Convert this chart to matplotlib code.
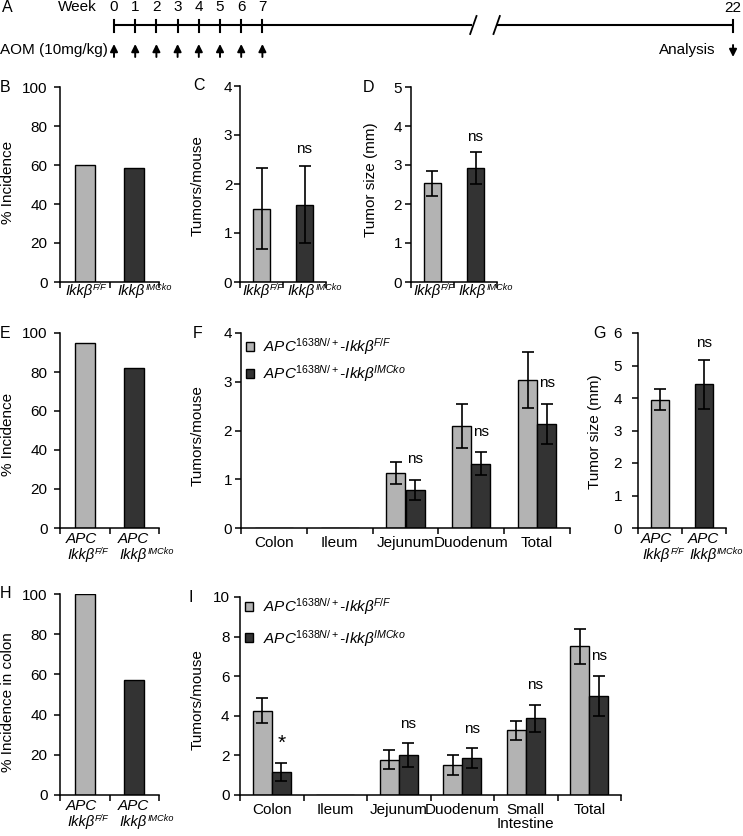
import numpy as np
import matplotlib
matplotlib.use('Agg')
import matplotlib.pyplot as plt
from matplotlib.patches import Patch

plt.rcParams['font.family'] = ['Liberation Sans', 'DejaVu Sans']
plt.rcParams['mathtext.fontset'] = 'custom'
plt.rcParams['mathtext.rm'] = 'Liberation Sans'
plt.rcParams['mathtext.it'] = 'Liberation Sans:italic'
plt.rcParams['mathtext.bf'] = 'Liberation Sans:bold'
plt.rcParams['font.size'] = 11

LIGHT = '#b3b3b3'
DARK = '#333333'
FS = 11
GFS = 10.5

# ---------------- data ----------------
weeks = [0, 1, 2, 3, 4, 5, 6, 7]
end_week = 22

gene_base = 'Ikkβ'
genotype_sups = ['F/F', 'IMCko']
apc_prefix = 'APC'
legend_labels = ['APC$^{\\mathit{1638N/+}}$-Ikkβ$^{\\mathit{F/F}}$',
                 'APC$^{\\mathit{1638N/+}}$-Ikkβ$^{\\mathit{IMCko}}$']

b_incidence = [60, 58.5]
c_tumors = [1.5, 1.58]
c_err = [0.83, 0.79]
c_marks = ['', 'ns']
d_size = [2.53, 2.92]
d_err = [0.32, 0.41]
d_marks = ['', 'ns']
e_incidence = [95, 82]
f_sites = ['Colon', 'Ileum', 'Jejunum', 'Duodenum', 'Total']
f_ff = [0, 0, 1.13, 2.10, 3.04]
f_ff_err = [0, 0, 0.23, 0.45, 0.58]
f_ko = [0, 0, 0.78, 1.32, 2.13]
f_ko_err = [0, 0, 0.20, 0.23, 0.41]
f_marks = ['', '', 'ns', 'ns', 'ns']
g_size = [3.95, 4.42]
g_err = [0.32, 0.76]
g_marks = ['', 'ns']
h_incidence = [100, 57.3]
i_sites = ['Colon', 'Ileum', 'Jejunum', 'Duodenum', 'Small\nIntestine', 'Total']
i_ff = [4.26, 0, 1.77, 1.52, 3.26, 7.51]
i_ff_err = [0.63, 0, 0.48, 0.50, 0.48, 0.87]
i_ko = [1.16, 0, 2.02, 1.87, 3.87, 5.00]
i_ko_err = [0.46, 0, 0.60, 0.50, 0.70, 1.03]
i_marks = ['*', '', 'ns', 'ns', 'ns', 'ns']

# ---------------- figure ----------------
W, H = 743, 836
fig = plt.figure(figsize=(W / 100, H / 100), dpi=100)


def add_ax(l, t, r, b):
    return fig.add_axes([l / W, 1 - b / H, (r - l) / W, (b - t) / H])


def style(ax, ncat, ymax, ystep, ypad, xpad=2, labels=None):
    for s in ['top', 'right']:
        ax.spines[s].set_visible(False)
    for s in ['left', 'bottom']:
        ax.spines[s].set_linewidth(1.1)
    ax.set_xlim(-0.5, ncat - 0.5)
    ax.set_ylim(0, ymax)
    ax.set_yticks(np.arange(0, ymax + ystep / 2, ystep))
    ax.set_xticks(np.arange(ncat + 1) - 0.5)
    ax.set_xticklabels([])
    ax.set_xticks(np.arange(ncat), minor=True)
    if labels is not None:
        ax.set_xticklabels(labels, minor=True, fontsize=FS, linespacing=1.0)
    else:
        ax.set_xticklabels([''] * ncat, minor=True)
    ax.tick_params(axis='x', which='minor', length=0, pad=xpad)
    ax.tick_params(axis='x', which='major', length=4, width=1.1, direction='out')
    ax.tick_params(axis='y', length=4, width=1.1, direction='out', pad=ypad,
                   labelsize=FS)
    return ax


def geno_labels(ax, two_line, dxs=(-14, -12), dy=-1.5):
    for i, sup in enumerate(genotype_sups):
        dx = dxs[i]
        if two_line:
            top = ax.annotate(apc_prefix, xy=(i, 0), xycoords=('data', 'axes fraction'),
                              xytext=(dx, dy - 1.5), textcoords='offset points',
                              ha='left', va='top', fontsize=FS, fontstyle='italic')
            base = ax.annotate(gene_base, xy=(0, 0), xycoords=top,
                               xytext=(1.5, -1.2), textcoords='offset points',
                               ha='left', va='top', fontsize=GFS, fontstyle='italic')
        else:
            base = ax.annotate(gene_base, xy=(i, 0), xycoords=('data', 'axes fraction'),
                               xytext=(dx, dy), textcoords='offset points',
                               ha='left', va='top', fontsize=GFS, fontstyle='italic')
        ax.annotate(sup, xy=(1, 1), xycoords=base, xytext=(0.3, 0.5),
                    textcoords='offset points', ha='left', va='top',
                    fontsize=6.6, fontstyle='italic')


def mark(ax, x, y, s, off):
    if s:
        fs = 15 if s == '*' else FS
        ax.annotate(s, (x, y), xytext=(0, off), textcoords='offset points',
                    ha='center', va='center', fontsize=fs)


def two_bars(ax, vals, err=None, marks=None, off=11):
    x = np.arange(len(vals))
    ax.bar(x, vals, width=0.4, color=[LIGHT, DARK], edgecolor='k', lw=1.0, zorder=2)
    if err is not None:
        ax.errorbar(x, vals, yerr=err, fmt='none', ecolor='k', elinewidth=1.2,
                    capsize=4.5, capthick=1.2, zorder=3)
        for xi, v, e, m in zip(x, vals, err, marks):
            mark(ax, xi, v + e, m, off)


def grouped(ax, a, aerr, b, berr, marks, w=0.29, off=13):
    x = np.arange(len(a))
    ax.bar(x - w / 2, a, width=w, color=LIGHT, edgecolor='k', lw=1.0, zorder=2)
    ax.bar(x + w / 2, b, width=w, color=DARK, edgecolor='k', lw=1.0, zorder=2)
    for xi, v, e, v2, e2, m in zip(x, a, aerr, b, berr, marks):
        if v > 0:
            ax.errorbar(xi - w / 2, v, yerr=e, fmt='none', ecolor='k', elinewidth=1.2,
                        capsize=4.5, capthick=1.2, zorder=3)
        if v2 > 0:
            ax.errorbar(xi + w / 2, v2, yerr=e2, fmt='none', ecolor='k', elinewidth=1.2,
                        capsize=4.5, capthick=1.2, zorder=3)
            mark(ax, xi + w / 2, v2 + e2, m, off)


def legend(ax, spacing, anchor):
    handles = [Patch(facecolor=LIGHT, edgecolor='k', lw=1.0),
               Patch(facecolor=DARK, edgecolor='k', lw=1.0)]
    ax.legend(handles, legend_labels, loc='upper left', bbox_to_anchor=anchor,
              frameon=False, handlelength=0.55, handleheight=0.55,
              handletextpad=0.6, labelspacing=spacing, borderaxespad=0,
              borderpad=0.2, prop={'style': 'italic', 'size': FS})


def ylabel(x, y, s):
    fig.text(x / W, 1 - y / H, s, rotation=90, ha='center', va='center', fontsize=FS)


def letter(x, y, s):
    fig.text(x / W, 1 - y / H, s, ha='left', va='center', fontsize=11.5)


# ---------------- A: timeline ----------------
axA = fig.add_axes([0, 1 - 70 / H, 1, 70 / H])
axA.set_xlim(-114 / 21.2, (743 - 114) / 21.2)
axA.set_ylim(70, 0)
axA.axis('off')
break_at, break_gap, end_pos = 16.9, 1.1, 29.2
axA.plot([weeks[0], break_at], [25, 25], color='k', lw=1.5, solid_capstyle='butt')
axA.plot([break_at + break_gap, end_pos], [25, 25], color='k', lw=1.5, solid_capstyle='butt')
for bx in [break_at - 0.1, break_at + break_gap - 0.1]:
    axA.plot([bx, bx + 0.3], [34, 16], color='k', lw=1.3)
for wk in weeks:
    axA.plot([wk, wk], [20, 32], color='k', lw=1.5)
    axA.text(wk, 7, str(wk), ha='center', va='center', fontsize=FS)
    axA.annotate('', xy=(wk, 44), xytext=(wk, 57),
                 arrowprops=dict(arrowstyle='-|>,head_width=0.2,head_length=0.4',
                                 lw=1.4, color='k', shrinkA=0, shrinkB=0))
axA.plot([end_pos, end_pos], [20, 32], color='k', lw=1.5)
axA.text(end_pos, 8, str(end_week), ha='center', va='center', fontsize=FS)
axA.annotate('', xy=(end_pos, 57), xytext=(end_pos, 45),
             arrowprops=dict(arrowstyle='-|>,head_width=0.2,head_length=0.4',
                             lw=1.4, color='k', shrinkA=0, shrinkB=0))
axA.text(-5.3, 7, 'A', ha='left', va='center', fontsize=11.5)
axA.text(-1.75, 7, 'Week', ha='center', va='center', fontsize=FS)
axA.text(-114 / 21.2, 50, 'AOM (10mg/kg)', ha='left', va='center', fontsize=FS)
axA.text(28.35, 50, 'Analysis', ha='right', va='center', fontsize=FS)

# ---------------- B ----------------
axB = add_ax(60, 87, 159, 282)
two_bars(axB, b_incidence)
style(axB, 2, 100, 20, 5.0)
geno_labels(axB, False)
ylabel(8, 182, '% Incidence')
letter(0, 87, 'B')

# ---------------- C ----------------
axC = add_ax(240, 86, 326, 282)
two_bars(axC, c_tumors, c_err, c_marks, off=12)
style(axC, 2, 4, 1, 1.5)
geno_labels(axC, False)
ylabel(198, 186, 'Tumors/mouse')
letter(193, 86, 'C')

# ---------------- D ----------------
axD = add_ax(411, 87, 497, 282)
two_bars(axD, d_size, d_err, d_marks, off=11)
style(axD, 2, 5, 1, 2.5)
geno_labels(axD, False)
ylabel(371, 180, 'Tumor size (mm)')
letter(363, 87, 'D')

# ---------------- E ----------------
axE = add_ax(60, 333, 159, 528)
two_bars(axE, e_incidence)
style(axE, 2, 100, 20, 5.0)
geno_labels(axE, True)
ylabel(8, 434, '% Incidence')
letter(0, 333, 'E')

# ---------------- F ----------------
axF = add_ax(241, 333, 570, 528)
grouped(axF, f_ff, f_ff_err, f_ko, f_ko_err, f_marks, off=15)
style(axF, 5, 4, 1, 2.5, 6, f_sites)
legend(axF, 0.4, (0.005, 1.0))
ylabel(198, 436, 'Tumors/mouse')
letter(193, 333, 'F')

# ---------------- G ----------------
axG = add_ax(638, 333, 726, 528)
two_bars(axG, g_size, g_err, g_marks, off=12)
style(axG, 2, 6, 1, 7.5)
geno_labels(axG, True)
ylabel(595, 432, 'Tumor size (mm)')
letter(593, 333, 'G')

# ---------------- H ----------------
axH = add_ax(60, 594, 159, 795)
two_bars(axH, h_incidence)
style(axH, 2, 100, 20, 5.0)
geno_labels(axH, True)
ylabel(8, 702, '% Incidence in colon')
letter(0, 594, 'H')

# ---------------- I ----------------
axI = add_ax(240, 597, 621, 795)
grouped(axI, i_ff, i_ff_err, i_ko, i_ko_err, i_marks, w=0.3, off=14)
style(axI, 6, 10, 2, 3.5, 6, i_sites)
legend(axI, 0.7, (0.005, 1.02))
ylabel(198, 700, 'Tumors/mouse')
letter(188, 597, 'I')

fig.savefig('out.png', dpi=100)
